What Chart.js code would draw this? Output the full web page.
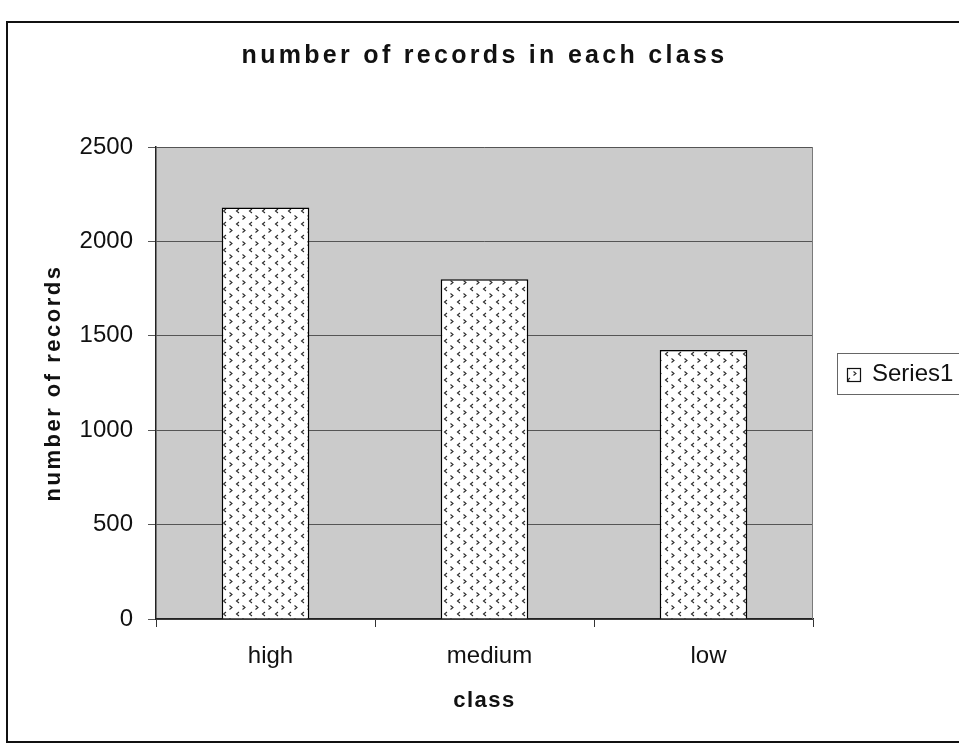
<!DOCTYPE html>
<html><head><meta charset="utf-8">
<script src="https://cdn.jsdelivr.net/npm/chart.js@4"></script>
<style>html,body{margin:0;padding:0;background:#fff}#wrap{width:959px;height:744px;position:relative}</style>
</head><body><div id="wrap"><canvas id="c" width="959" height="744"></canvas></div>
<script>
const categories = ['high', 'medium', 'low'];
const seriesValues = [2180, 1800, 1425];
const seriesName = 'Series1';
const yTickValues = [0, 500, 1000, 1500, 2000, 2500];
const chartTitle = 'number of records in each class';
const xTitle = 'class';
const yTitle = 'number of records';

function makePattern() {
  const s = 13;
  const c = document.createElement('canvas'); c.width = s; c.height = s;
  const g = c.getContext('2d');
  g.fillStyle = '#fff'; g.fillRect(0, 0, s, s);
  g.strokeStyle = '#2a2a2a'; g.lineWidth = 1.1;
  g.beginPath(); g.moveTo(5, 1); g.lineTo(2.5, 3); g.lineTo(5, 5); g.stroke();
  g.beginPath(); g.moveTo(8.5, 7.5); g.lineTo(11, 9.5); g.lineTo(8.5, 11.5); g.stroke();
  return g.createPattern(c, 'repeat');
}
const pattern = makePattern();

function spaced(obj, method, sp) {
  if (!obj || !obj[method] || obj[method]._sp) return;
  const orig = obj[method];
  const f = function (...a) { const c = this.ctx; c.save(); c.letterSpacing = sp; const r = orig.apply(this, a); c.restore(); return r; };
  f._sp = true;
  obj[method] = f;
}

const decor = {
  id: 'decor',
  beforeDraw(chart) {
    spaced(chart.titleBlock, 'draw', '3.3px');
    spaced(chart.scales.y, 'drawTitle', '2.5px');
    spaced(chart.scales.x, 'drawTitle', '1.5px');
    const { ctx, chartArea: a } = chart;
    ctx.save();
    ctx.fillStyle = '#fff'; ctx.fillRect(0, 0, chart.width, chart.height);
    ctx.fillStyle = '#cbcbcb'; ctx.fillRect(a.left, a.top, a.right - a.left, a.bottom - a.top);
    ctx.restore();
  },
  afterDraw(chart) {
    const { ctx, chartArea: a } = chart;
    ctx.save();
    ctx.strokeStyle = '#7a7a7a'; ctx.lineWidth = 1;
    ctx.beginPath(); ctx.moveTo(a.right - 0.5, a.top); ctx.lineTo(a.right - 0.5, a.bottom); ctx.stroke();
    // outer frame
    ctx.strokeStyle = '#111'; ctx.lineWidth = 2;
    ctx.strokeRect(7, 22, 980, 720);
    // legend
    ctx.strokeStyle = '#666'; ctx.lineWidth = 1;
    ctx.strokeRect(837.5, 353.5, 140, 41);
    ctx.fillStyle = pattern; ctx.fillRect(847, 368, 14, 14);
    ctx.strokeStyle = '#111'; ctx.lineWidth = 1.2; ctx.strokeRect(847.5, 368.5, 13, 13);
    ctx.fillStyle = '#111'; ctx.font = "24px 'Liberation Sans', Arial, sans-serif";
    ctx.textBaseline = 'alphabetic'; ctx.textAlign = 'left';
    ctx.fillText(chart.data.datasets[0].label, 872, 381);
    ctx.restore();
  }
};

Chart.defaults.font.family = "'Liberation Sans', Arial, sans-serif";
Chart.defaults.color = '#111';

const chart = new Chart(document.getElementById('c'), {
  type: 'bar',
  data: {
    labels: categories,
    datasets: [{
      label: seriesName, data: seriesValues,
      backgroundColor: pattern, borderColor: '#000', borderWidth: 1.5,
      categoryPercentage: 1, barPercentage: 0.4
    }]
  },
  options: {
    responsive: false, animation: false, devicePixelRatio: 1,
    layout: { padding: { left: 0, right: 146, top: 0, bottom: 0 } },
    plugins: {
      legend: { display: false },
      tooltip: { enabled: false },
      title: { display: true, fullSize: false, text: chartTitle, font: { size: 25, weight: 'bold' }, color: '#111', padding: { top: 41, bottom: 76 } }
    },
    scales: {
      x: {
        grid: { display: true, drawOnChartArea: false, drawTicks: true, tickLength: 8, color: '#333', offset: true },
        border: { display: true, color: '#222', width: 1.5 },
        ticks: { font: { size: 24 }, color: '#111', padding: 15, labelOffset: 5 },
        title: { display: true, text: xTitle, font: { size: 22, weight: 'bold' }, color: '#111', padding: { top: 0, bottom: 30 } },
        afterFit(s) { s.height = 125; }
      },
      y: {
        min: 0, max: 2500,
        afterBuildTicks(s) { s.ticks = yTickValues.map(v => ({ value: v })); },
        grid: { color: '#555', lineWidth: 1, tickLength: 8, drawTicks: true },
        border: { display: true, color: '#222', width: 1.5 },
        ticks: { font: { size: 24 }, color: '#111', padding: 15, callback: v => String(v) },
        title: { display: true, text: yTitle, font: { size: 22, weight: 'bold' }, color: '#111', padding: { top: 41, bottom: 0 } },
        afterFit(s) { s.width = 156; }
      }
    }
  },
  plugins: [decor]
});
</script>
</body></html>
